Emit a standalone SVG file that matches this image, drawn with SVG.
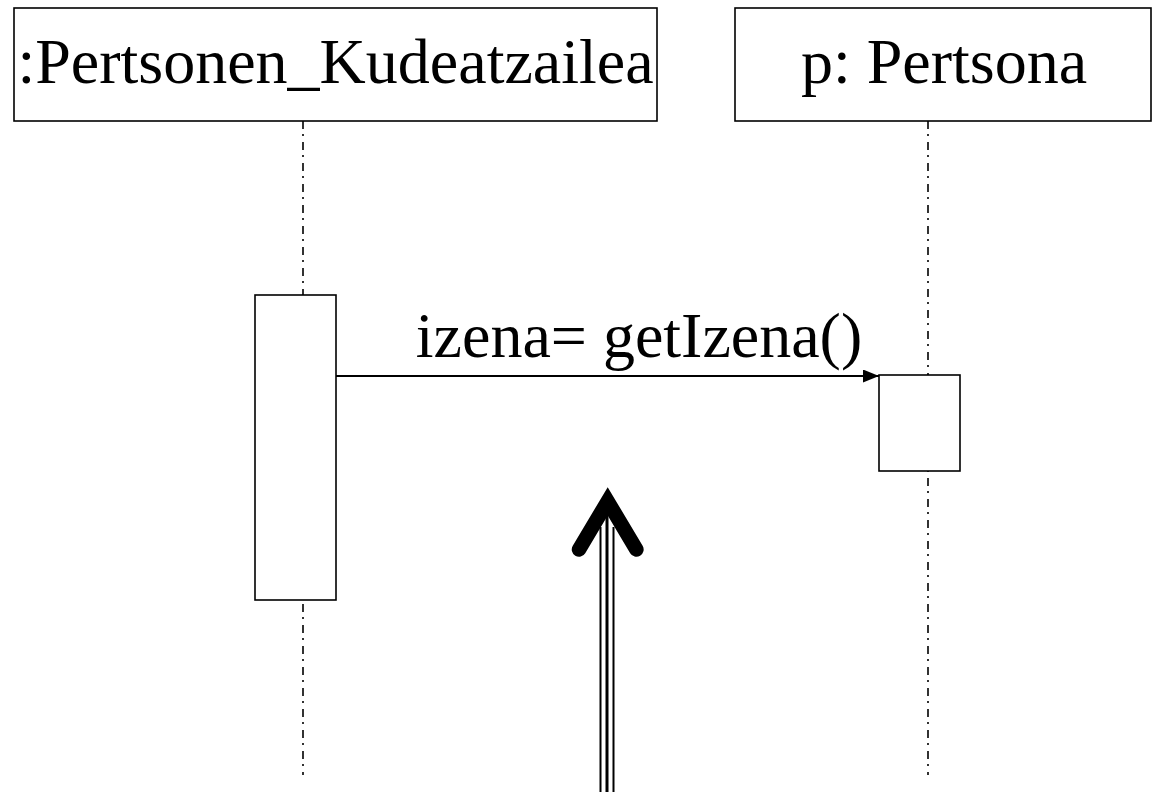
<svg xmlns="http://www.w3.org/2000/svg" width="1153" height="792" viewBox="0 0 1153 792">
<defs>
<style>
.box{fill:#fff;stroke:#000;stroke-width:1.6}
.lbl{font-family:"Liberation Serif","Times New Roman",serif;font-size:64px;fill:#000}
.life{stroke:#000;stroke-width:1.6;stroke-dasharray:8 5 2 6;fill:none}
.msg{stroke:#000;stroke-width:2;fill:none}
</style>
<marker id="arr" viewBox="0 0 16 13" refX="16" refY="6.5" markerWidth="16" markerHeight="13" markerUnits="userSpaceOnUse" orient="auto">
<path d="M0,0 L16,6.5 L0,13 z" fill="#000"/>
</marker>
</defs>
<rect width="1153" height="792" fill="#fff"/>
<g id="lifelines">
<line class="life" x1="303" y1="121" x2="303" y2="775"/>
<line class="life" x1="928" y1="121" x2="928" y2="775"/>
</g>
<g id="node-kudeatzailea">
<rect class="box" x="14" y="8" width="643" height="113"/>
<text class="lbl" x="335.5" y="83" text-anchor="middle">:Pertsonen_Kudeatzailea</text>
</g>
<g id="node-pertsona">
<rect class="box" x="735" y="8" width="416" height="113"/>
<text class="lbl" x="944" y="83" text-anchor="middle">p: Pertsona</text>
</g>
<g id="activation-left">
<rect class="box" x="255" y="295" width="81" height="305"/>
</g>
<g id="activation-right">
<rect class="box" x="879" y="375" width="81" height="96"/>
</g>
<g id="connectors">
<line class="msg" x1="336" y1="376" x2="879" y2="376" marker-end="url(#arr)"/>
<text class="lbl" x="639" y="357" text-anchor="middle">izena= getIzena()</text>
</g>
<g id="pointer">
<line x1="600.5" y1="527" x2="600.5" y2="792" stroke="#000" stroke-width="2"/>
<line x1="607" y1="510" x2="607" y2="792" stroke="#000" stroke-width="3"/>
<line x1="613.5" y1="527" x2="613.5" y2="792" stroke="#000" stroke-width="2"/>
<polyline points="579,549.5 607.7,501.3 636.4,549.5" fill="none" stroke="#000" stroke-width="14.5" stroke-linecap="round" stroke-linejoin="miter" stroke-miterlimit="10"/>
</g>
</svg>
